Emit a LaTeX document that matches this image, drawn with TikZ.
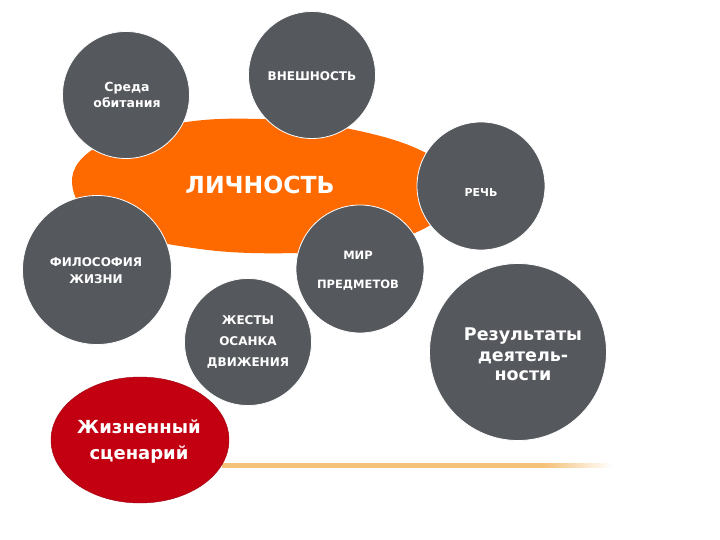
\documentclass[tikz,border=0pt]{standalone}
\usepackage{fontspec}
\setmainfont{DejaVu Sans}
\usetikzlibrary{shapes.geometric}
\definecolor{circgrey}{HTML}{55585D}
\definecolor{orng}{HTML}{FF6A00}
\definecolor{redc}{HTML}{C20012}
\definecolor{lineor}{HTML}{F5C27A}
\begin{document}
\begin{tikzpicture}[x=1pt,y=-1pt,
  bubble/.style={circle, fill=circgrey, draw=white, line width=0.8pt, inner sep=0pt, minimum size=#1},
  lbl/.style={text=white, font=\bfseries\fontsize{#1}{#1}\selectfont, align=center, inner sep=0pt},
]
\useasboundingbox (0,0) rectangle (720,540);
% orange personality blob
\fill[orng] plot[smooth cycle, tension=0.65] coordinates {
  (72,183) (100,145) (180,123) (260,119) (340,127) (420,150) (462,186)
  (432,224) (370,246) (300,253) (200,249) (105,226)};
\node[lbl=23.5] (lich) at (260,185) {ЛИЧНОСТЬ};
% gradient line
\shade[left color=lineor, right color=lineor] (222,463.5) rectangle (545,467.5);
\shade[left color=lineor, right color=white] (545,463.5) rectangle (612,467.5);
% circles
\node[bubble=127pt] (sreda) at (126,95) {};
\node[lbl=12.5] (sredat) at (127,95) {Среда\\[3pt]обитания};
\node[bubble=127pt] (vnesh) at (312,75) {};
\node[lbl=12] (vnesht) at (312,76) {ВНЕШНОСТЬ};
\node[bubble=149pt] (filos) at (97,270) {};
\node[lbl=12] (filost) at (96,271) {ФИЛОСОФИЯ\\[5pt]ЖИЗНИ};
\node[bubble=128pt] (mir) at (360,269) {};
\node[lbl=11.5] (mirt) at (358,255) {МИР};
\node[lbl=11.5] (predt) at (358,285) {ПРЕДМЕТОВ};
\node[bubble=128pt] (rech) at (481,186) {};
\node[lbl=11] (recht) at (481,192) {РЕЧЬ};
\node[bubble=127pt] (zhest) at (248,342) {};
\node[lbl=12] (zhestt) at (248,342) {ЖЕСТЫ\\[9pt]ОСАНКА\\[9pt]ДВИЖЕНИЯ};
\node[bubble=177pt] (result) at (518,352) {};
\node[lbl=17.5] (resultt) at (523,354) {Результаты\\[4pt]деятель-\\[1pt]ности};
% red ellipse
\node[ellipse, fill=redc, draw=redc!80!black, line width=0.4pt, minimum width=178pt, minimum height=126pt, inner sep=0pt] (scen) at (140,440) {};
\node[lbl=18] (scent) at (139,441) {Жизненный\\[8pt]сценарий};
\end{tikzpicture}
\end{document}
